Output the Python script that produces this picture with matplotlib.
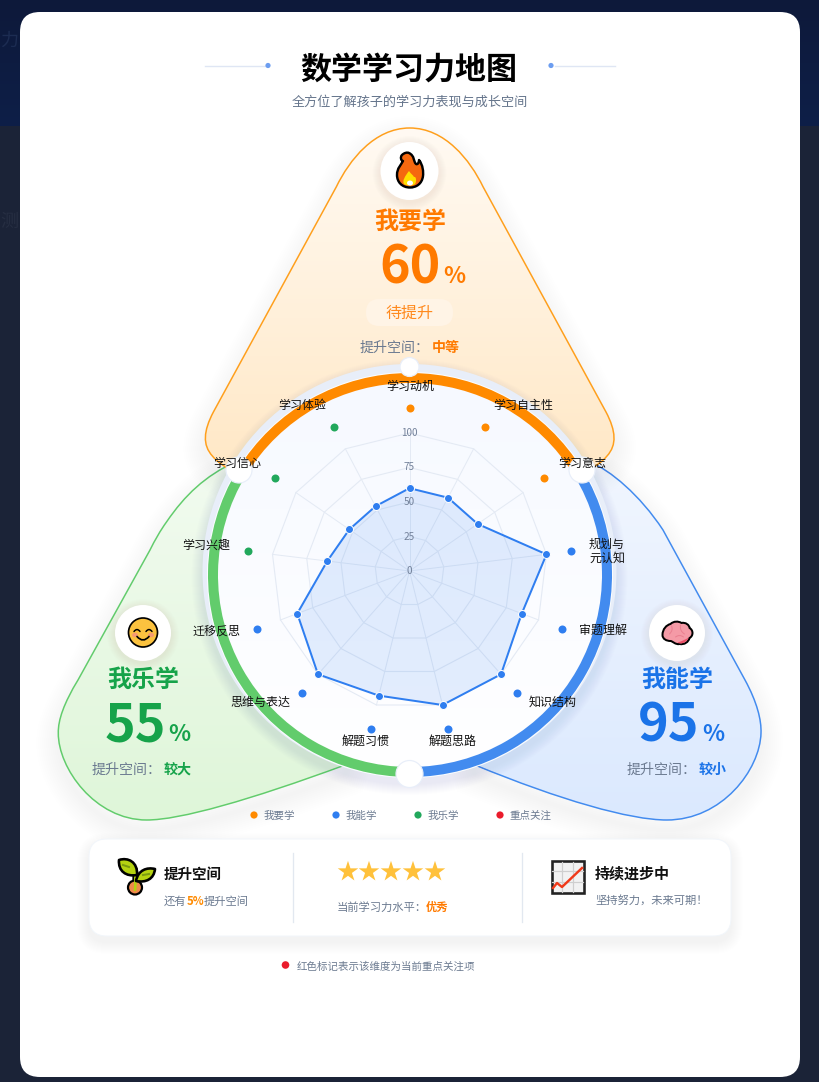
import numpy as np
import matplotlib
matplotlib.use("Agg")
import matplotlib.pyplot as plt
from matplotlib.patches import Circle, Wedge, FancyBboxPatch, PathPatch, Rectangle, Ellipse
from matplotlib.path import Path
from matplotlib.transforms import Affine2D
from matplotlib.colors import to_rgb

plt.rcParams['font.family'] = ['Noto Sans CJK SC', 'DejaVu Sans']

# radar data
dimensions = ["学习动机", "学习自主性", "学习意志", "规划与\n元认知", "审题理解", "知识结构", "解题思路",
              "解题习惯", "思维与表达", "迁移反思", "学习兴趣", "学习信心", "学习体验"]
scores = [60, 60, 60, 100, 87, 100, 100, 93, 100, 87, 60, 53, 53]
groups = ["要", "要", "要", "能", "能", "能", "能", "能", "能", "能", "乐", "乐", "乐"]
radial_ticks = [0, 25, 50, 75, 100]

legend_names = ["我要学", "我能学", "我乐学", "重点关注"]
legend_colors = ["#ff8a00", "#2f7ef0", "#22a85c", "#ea1c2c"]

# where the dimension labels sit, in pixels
label_xy = [(410, 386), (523.5, 405), (582, 463), (607, 551), (602.5, 630), (553, 701), (453, 741),
            (366, 741), (260, 702), (217, 630), (206.5, 544), (237, 463), (302, 405)]

W, H = 819, 1082
CX, CY = 409.5, 571
PX = 0.72
ORANGE, BLUE, GREEN = "#ff7a00", "#1a73e8", "#16a34a"
GREY = "#6b7a90"

fig = plt.figure(figsize=(W / 100, H / 100), dpi=100)
ax = fig.add_axes([0, 0, 1, 1])
ax.set_xlim(0, W)
ax.set_ylim(H, 0)
ax.axis("off")


def txt(x, y, s, size, color="#000000", weight="normal", ha="center", va="center", z=30):
    if va == "center":
        y = y + size * 0.06
    return ax.text(x, y, s, fontsize=size * PX, color=color, fontweight=weight, ha=ha, va=va, zorder=z)


def gradient(box, top, bottom, clip, z):
    c0, c1 = np.array(to_rgb(top)), np.array(to_rgb(bottom))
    t = np.linspace(0, 1, 256)[:, None, None]
    img = c0[None, None, :] * (1 - t) + c1[None, None, :] * t
    im = ax.imshow(img, extent=(box[0], box[1], box[3], box[2]), origin="upper", aspect="auto",
                   zorder=z, interpolation="bilinear")
    im.set_clip_path(clip)
    return im


def make_path(start, segs):
    verts, codes = [start], [Path.MOVETO]
    for s in segs:
        if len(s) == 3:
            verts += list(s)
            codes += [Path.CURVE4] * 3
        else:
            verts += [s[0]]
            codes += [Path.LINETO]
    verts.append(start)
    codes.append(Path.CLOSEPOLY)
    return Path(verts, codes)


def shadow(path, dy, spread, z, color="#51658c", alpha=0.004):
    moved = Affine2D().translate(0, dy).transform_path(path)
    for w in range(2, spread, 2):
        ax.add_patch(PathPatch(moved, fc="none", ec=color, alpha=alpha, lw=w * PX * 2, zorder=z))


def petal(path, box, top, bottom, edge, z):
    shadow(path, 10, 24, z)
    clip = PathPatch(path, fc="none", ec="none", transform=ax.transData)
    ax.add_patch(clip)
    gradient(box, top, bottom, clip, z + 0.1)
    ax.add_patch(PathPatch(path, fc="none", ec=edge, lw=1.5 * PX, zorder=z + 0.2))


def badge(x, y, r):
    for i in range(1, 9):
        ax.add_patch(Circle((x, y + 2), r + i, fc="#7a6a50", alpha=0.008, ec="none", zorder=20))
    ax.add_patch(Circle((x, y), r, fc="white", ec="none", zorder=20.5))


def shape(cx, cy, start, segs, fc, ec="black", lw=2.0, z=22):
    s = make_path(start, segs)
    s = Affine2D().translate(cx, cy).transform_path(s)
    ax.add_patch(PathPatch(s, fc=fc, ec=ec, lw=lw * PX, zorder=z, joinstyle="round"))


def stroke(cx, cy, pts, color, lw, z=23):
    codes = [Path.MOVETO] + [Path.CURVE3] * (len(pts) - 1)
    p = Path([(cx + a, cy + b) for a, b in pts], codes)
    ax.add_patch(PathPatch(p, fc="none", ec=color, lw=lw * PX, zorder=z, capstyle="round"))


# page background
ax.add_patch(Rectangle((0, 0), W, H, fc="#1b2337", ec="none", zorder=0))
band = Rectangle((0, 0), W, 126, transform=ax.transData)
gradient((0, W, 0, 126), "#0d193a", "#0e1f48", band, 0.5)
ax.text(0, 41, "力", fontsize=13, color="#1c2c52", va="center", zorder=0.6)
ax.text(0, 222, "测", fontsize=13, color="#262e42", va="center", zorder=0.6)

# white card
ax.add_patch(FancyBboxPatch((20, 12), 780, 1065, boxstyle="round,pad=0,rounding_size=20",
                            fc="white", ec="none", zorder=1))

# title
txt(408.5, 68, "数学学习力地图", 31, "#000000", "bold")
txt(410, 101, "全方位了解孩子的学习力表现与成长空间", 13.1, "#64748b")
for x0, x1, dot in [(205, 265, 268), (555, 615, 551)]:
    ax.plot([x0, x1], [65.5, 65.5], color="#dfe6f4", lw=1.4 * PX, zorder=2)
    ax.add_patch(Circle((dot, 65.5), 2.6, fc="#6c9df0", ec="none", zorder=2))

# petals
green_path = make_path((300, 570), [
    [(235, 462)],
    ((205, 476), (185, 495), (166.7, 521.7)),
    ((160, 531), (155, 540), (150, 550)),
    [(78, 680)],
    ((64, 703), (58, 720), (58.3, 733)),
    ((58, 768), (95, 820), (146.7, 820)),
    ((180, 820), (250, 800), (345, 765)),
    [(400, 600)],
])
blue_path = make_path((520, 570), [
    [(590, 462)],
    ((610, 470), (640, 495), (663, 530)),
    ((667, 537), (671, 545), (675, 552)),
    [(745, 680)],
    ((757, 702), (761.5, 720), (761, 733)),
    ((760, 770), (722, 820), (666.7, 820)),
    ((630, 820), (560, 800), (475, 765)),
    [(420, 600)],
])
m = 2 * 409.7
orange_path = make_path((409.7, 128), [
    ((445, 128), (470, 160), (483, 186.7)),
    [(606, 412)],
    ((616, 431), (617, 445), (607, 456)),
    ((602, 462), (596, 466), (586, 472)),
    [(409.7, 570)],
    [(m - 586, 472)],
    ((m - 596, 466), (m - 602, 462), (m - 607, 456)),
    ((m - 617, 445), (m - 616, 431), (m - 606, 412)),
    [(m - 483, 186.7)],
    ((m - 470, 160), (m - 445, 128), (409.7, 128)),
])
petal(green_path, (40, 400, 460, 820), "#f2fbf0", "#dff6d9", "#62cc6c", 3)
petal(blue_path, (420, 780, 460, 820), "#f1f6ff", "#dbe9fe", "#428bef", 4)
petal(orange_path, (190, 630, 128, 470), "#fffaf3", "#ffe8c6", "#ff9f1c", 5)

# dial
for i in range(1, 12):
    ax.add_patch(Circle((CX, CY + 6), 207 + i, fc="#51658c", alpha=0.007, ec="none", zorder=7))
ax.add_patch(Circle((CX, CY), 207, fc="#e8eef9", ec="none", zorder=8))
ax.add_patch(Circle((410, 575), 203, fc="#fbfdff", ec="none", zorder=8.1))
disc = Circle((410, 575), 193, transform=ax.transData)
gradient((210, 610, 375, 775), "#f6f9ff", "#ffffff", disc, 8.2)
RING = (410, 575)
ring_a = 58.6
ax.add_patch(Wedge(RING, 202, -90 - ring_a, -90 + ring_a, width=10, fc="#ff8a00", ec="none", zorder=9))
ax.add_patch(Wedge(RING, 202, -90 + ring_a, 90, width=10, fc="#428bef", ec="none", zorder=9))
ax.add_patch(Wedge(RING, 202, 90, 270 - ring_a, width=10, fc="#62cc6c", ec="none", zorder=9))
for x, y, r in [(409.5, 367, 9.5), (239, 470, 13), (582, 470, 13), (409.5, 774, 13.5)]:
    ax.add_patch(Circle((x, y), r, fc="white", ec="#e8eef9", lw=1.2 * PX, zorder=10))

# dimension labels
for name, (x, y) in zip(dimensions, label_xy):
    if "\n" in name:
        ax.text(x, y, name, fontsize=12 * PX, color="#111111", ha="center", va="center",
                linespacing=1.05, zorder=30)
    else:
        txt(x, y, name, 12, "#111111")

# top petal texts
badge(409.5, 171, 29)
txt(410, 220, "我要学", 24, ORANGE, "bold")
txt(379, 283, "60", 52, ORANGE, "bold", ha="left", va="baseline")
txt(443, 283, "%", 23, ORANGE, "bold", ha="left", va="baseline")
ax.add_patch(FancyBboxPatch((366, 299), 87, 27, boxstyle="round,pad=0,rounding_size=13.5",
                            fc="#fff4e6", ec="none", zorder=20))
txt(410, 312, "待提升", 16, "#ff8a1e", z=21)
txt(360, 347, "提升空间：", 14, GREY, ha="left")
txt(432, 347, "中等", 14, ORANGE, "bold", ha="left")

# left petal texts
badge(143, 633, 28)
txt(143, 678, "我乐学", 24, GREEN, "bold")
txt(105, 741, "55", 52, GREEN, "bold", ha="left", va="baseline")
txt(168, 741, "%", 23, GREEN, "bold", ha="left", va="baseline")
txt(92, 769, "提升空间：", 14, GREY, ha="left")
txt(164, 769, "较大", 14, GREEN, "bold", ha="left")

# right petal texts
badge(677, 633, 28)
txt(677.5, 678, "我能学", 24, BLUE, "bold")
txt(638, 741, "95", 52, BLUE, "bold", ha="left", va="baseline")
txt(702, 741, "%", 23, BLUE, "bold", ha="left", va="baseline")
txt(627, 769, "提升空间：", 14, GREY, ha="left")
txt(699, 769, "较小", 14, BLUE, "bold", ha="left")

# fire icon
shape(410, 170, (-1, -17), [
    ((5, -14), (3, -9), (6, -6)),
    ((8, -5), (9, -8), (9, -10)),
    ((13, -5), (13.5, 2), (13, 6)),
    ((12, 14), (6, 17.5), (0, 17.5)),
    ((-8, 17.5), (-13, 12), (-13, 5)),
    ((-13, -2), (-9, -5), (-7, -9)),
    ((-9, -9), (-10, -13), (-8, -15)),
    ((-6, -17), (-3, -18), (-1, -17)),
], "#f5680f", lw=2.4)
shape(410, 170, (-1, 1), [
    ((1, 4), (3, 5), (4, 7)),
    ((6, 6), (7, 11), (5, 14)),
    ((3, 16), (-4, 16), (-6, 14)),
    ((-8, 11), (-5, 6), (-1, 1)),
], "#ffdf00", ec="none", lw=0, z=23)
ax.add_patch(Ellipse((410, 183), 6, 5, fc="white", ec="none", zorder=24))

# smiley icon
ax.add_patch(Circle((143, 632.5), 14.5, fc="#fbc23f", ec="black", lw=1.7 * PX, zorder=22))
ax.add_patch(Ellipse((135, 635), 6, 4.5, fc="#f59a72", ec="none", zorder=22.5))
ax.add_patch(Ellipse((151, 635), 6, 4.5, fc="#f59a72", ec="none", zorder=22.5))
stroke(143, 632.5, [(-9, -1), (-6, -5), (-3, -1)], "black", 1.5)
stroke(143, 632.5, [(3, -1), (6, -5), (9, -1)], "black", 1.5)
stroke(143, 632.5, [(-6, 4), (0, 11), (6, 4)], "black", 1.7)

# brain icon
brain_start = (-15, 3)
brain_segs = [
    ((-15, -3), (-11, -7), (-7, -8)),
    ((-4, -11), (1, -11), (4, -9)),
    ((8, -10), (12, -7), (12, -4)),
    ((16, -2), (16, 4), (12, 6)),
    ((11, 10), (7, 13), (2, 12)),
    ((-2, 13), (-5, 9), (-7, 9)),
    ((-11, 9), (-15, 7), (-15, 3)),
]
shape(677.5, 632, brain_start, brain_segs, "#f49aa6", lw=2.0)
shape(677.5, 632, (0, 10.5), [((5, 9), (9, 7), (11, 5.5)), ((10, 9), (6, 12), (2, 11.5))], "#ea4f68", ec="none", lw=0, z=23)
stroke(677.5, 632, [(-6, -6), (-4, -2), (-8, 2)], "#e97f90", 1.0)
stroke(677.5, 632, [(3, -7), (2, -1), (7, 2)], "#e97f90", 1.0)
stroke(677.5, 632, [(-2, 5), (2, 2), (6, 5)], "#e97f90", 1.0)

# radar in its own polar axes, 100 on the scale is 138 px out
half = 138 * 1.4
pol = fig.add_axes([(CX - half) / W, (H - CY - half) / H, 2 * half / W, 2 * half / H], projection="polar")
pol.set_theta_zero_location("N")
pol.set_theta_direction(-1)
pol.set_ylim(0, 140)
pol.axis("off")
pol.patch.set_alpha(0)
theta = np.arange(len(scores)) * 2 * np.pi / len(scores)
closed = np.append(theta, theta[0])
group_color = {"要": legend_colors[0], "能": legend_colors[1], "乐": legend_colors[2]}

pol.fill(closed, scores + scores[:1], color="#2f7ef0", alpha=0.13, lw=0, zorder=2)
for tick in radial_ticks[1:]:
    pol.plot(closed, [tick] * len(closed), color="#e4eaf4", lw=1.1 * PX, zorder=1)
for th in theta:
    pol.plot([th, th], [0, 100], color="#e4eaf4", lw=1.0 * PX, zorder=1)
pol.plot(closed, scores + scores[:1], color="#2f7ef0", lw=2 * PX, zorder=3)
pol.plot(theta, scores, "o", ms=8 * PX, mfc="#2f7ef0", mec="white", mew=1 * PX, zorder=4)
for th, g in zip(theta, groups):
    pol.plot(th, 118, "o", ms=8 * PX, mfc=group_color[g], mec="none", zorder=4)
for tick in radial_ticks:
    pol.text(0, tick, str(tick), fontsize=10 * PX, color="#73819a", ha="center", va="center", zorder=5)

# legend
for i, (name, col) in enumerate(zip(legend_names, legend_colors)):
    x = 254 + 82 * i
    ax.add_patch(Circle((x, 815), 3.6, fc=col, ec="none", zorder=20))
    txt(x + 10, 815.5, name, 10.5, GREY, ha="left")

# bottom card
for i in range(1, 13):
    ax.add_patch(FancyBboxPatch((89 - i, 839 - i + 6), 642 + 2 * i, 97 + 2 * i,
                                boxstyle="round,pad=0,rounding_size=%d" % (18 + i),
                                fc="#51658c", ec="none", alpha=0.005, zorder=11))
ax.add_patch(FancyBboxPatch((89, 839), 642, 97, boxstyle="round,pad=0,rounding_size=18",
                            fc="white", ec="#f2f6fb", lw=1 * PX, zorder=12))
for x in (293, 522):
    ax.plot([x, x], [853, 922], color="#e2e8f0", lw=1.3 * PX, zorder=13)

# seedling icon
stroke(136, 870, [(-1, 0), (0, 8), (-1, 16)], "black", 6, z=14)
ax.add_patch(Circle((135, 887.5), 7, fc="#f08a4b", ec="black", lw=2.2 * PX, zorder=14.5))
stroke(136, 870, [(-1, 2), (0, 10), (-1, 20)], "#b5d211", 2.6, z=15)
shape(0, 0, (119, 860), [((128, 857), (138, 862), (137, 875)), ((126, 877), (118, 871), (119, 860))],
      "#b5d211", lw=2.6, z=15)
shape(0, 0, (155, 869), [((147, 867), (138, 870), (136, 881)), ((146, 883), (154, 879), (155, 869))],
      "#b5d211", lw=2.6, z=15)
ax.plot([123, 129], [865, 867], color="#7a9a10", lw=2 * PX, zorder=16)
ax.plot([143, 149], [875, 874], color="#7a9a10", lw=2 * PX, zorder=16)

txt(164, 874, "提升空间", 14.5, "#111111", "bold", ha="left", z=14)
txt(164, 901, "还有", 11.3, GREY, ha="left", z=14)
txt(186.5, 901, "5%", 11.3, "#ff8a00", "bold", ha="left", z=14)
txt(203.5, 901, "提升空间", 11.3, GREY, ha="left", z=14)

txt(391, 871, "★★★★★", 22, "#ffc13b", z=14)
txt(337, 907, "当前学习力水平：", 11.3, GREY, ha="left", z=14)
txt(425.5, 907, "优秀", 11.3, "#ff7a00", "bold", ha="left", z=14)

# rising chart icon
ax.add_patch(Rectangle((551.5, 861), 32, 32, fc="#f2f2f2", ec="#222222", lw=2.6 * PX, zorder=14))
for v in (562, 573):
    ax.plot([v, v], [862, 892], color="#cfcfcf", lw=1.2 * PX, zorder=14.5)
for v in (871, 882):
    ax.plot([552, 583], [v, v], color="#cfcfcf", lw=1.2 * PX, zorder=14.5)
ax.plot([553, 557, 562, 582], [888, 883, 887, 868], color="#f03a1a", lw=2.4 * PX, zorder=15)

txt(595, 873, "持续进步中", 15, "#111111", "bold", ha="left", z=14)
txt(595, 901, "坚持努力，未来可期！", 11.3, GREY, ha="left", z=14)

# footnote
ax.add_patch(Circle((285.5, 965), 3.8, fc="#ea1c2c", ec="none", zorder=14))
txt(297, 965.5, "红色标记表示该维度为当前重点关注项", 10.5, GREY, ha="left", z=14)

ax.set_xlim(0, W)
ax.set_ylim(H, 0)
fig.savefig("out.png", dpi=100)
